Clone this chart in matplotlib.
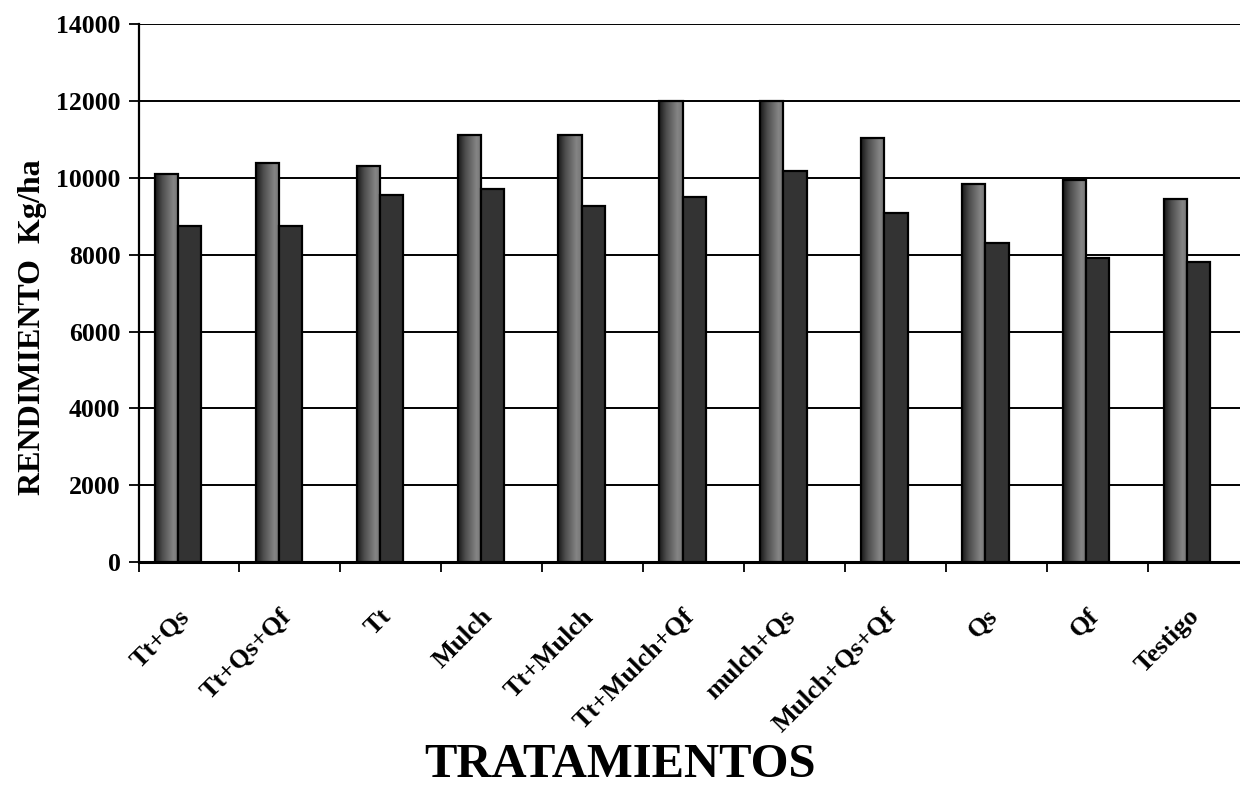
import numpy as np
import matplotlib
matplotlib.use("Agg")
import matplotlib.pyplot as plt
from matplotlib import transforms

# ---- data ----
categories = ["Tt+Qs", "Tt+Qs+Qf", "Tt", "Mulch", "Tt+Mulch", "Tt+Mulch+Qf",
              "mulch+Qs", "Mulch+Qs+Qf", "Qs", "Qf", "Testigo"]
serie_1 = [10090, 10390, 10300, 11120, 11120, 12000, 12000, 11030, 9850, 9950, 9460]
serie_2 = [8745, 8740, 9560, 9710, 9270, 9510, 10190, 9080, 8295, 7910, 7815]
yticks = [0, 2000, 4000, 6000, 8000, 10000, 12000, 14000]
ylabel = "RENDIMIENTO  Kg/ha"
xlabel = "TRATAMIENTOS"

plt.rcParams['font.family'] = ['Liberation Serif', 'DejaVu Serif']
plt.rcParams['font.weight'] = 'bold'

W, H = 1240, 789
fig = plt.figure(figsize=(W / 100, H / 100), dpi=100)
left_px, right_px = 138.5, 1249.0
top_px, bot_px = 24.3, 562.0
ax = fig.add_axes([left_px / W, 1 - bot_px / H, (right_px - left_px) / W, (bot_px - top_px) / H])

n = len(categories)
x = np.arange(n)
bw = 0.229
off1 = 0.160
off2 = off1 + bw

# gradient for series 1 (cylinder-like shading)
grad = np.interp(np.linspace(0, 1, 64), [0, 0.3, 0.78, 1.0], [0.10, 0.30, 0.52, 0.46])
img = np.tile(grad, (2, 1))

bars1 = ax.bar(x + off1, serie_1, width=bw, align='edge', facecolor='none',
               edgecolor='black', linewidth=1.6, zorder=4)
for p in bars1:
    x0, w, h = p.get_x(), p.get_width(), p.get_height()
    ax.imshow(img, cmap='gray', vmin=0, vmax=1, extent=(x0, x0 + w, 0, h),
              aspect='auto', interpolation='bilinear', zorder=3)

ax.bar(x + off2, serie_2, width=bw, align='edge', color='#333333',
       edgecolor='black', linewidth=1.6, zorder=4)

ax.set_xlim(0, n)
ax.set_ylim(0, 14000)
ax.set_yticks(yticks)
ax.set_yticklabels([str(v) for v in yticks], fontsize=18.5, fontweight='bold')
ax.set_xticks(np.arange(n + 1))
ax.set_xticklabels([])
ax.tick_params(axis='y', direction='out', length=7, width=1.3, pad=6)
ax.tick_params(axis='x', direction='out', length=7, width=1.3)

ax.yaxis.grid(True, color='black', linewidth=1.4)
ax.set_axisbelow(True)
for s in ['top', 'right']:
    ax.spines[s].set_visible(False)
ax.spines['left'].set_linewidth(1.6)
ax.spines['bottom'].set_linewidth(2.2)

# rotated category labels
trans = transforms.blended_transform_factory(ax.transData, ax.transAxes)
for i, lab in enumerate(categories):
    ax.text(i + 0.47, 0, lab,
            transform=trans + transforms.ScaledTranslation(0, -51 / 100, fig.dpi_scale_trans),
            rotation=45, rotation_mode='anchor', ha='right', va='center',
            fontsize=19, fontweight='bold')

fig.text(620 / W, 1 - 777 / H, xlabel, ha='center', va='baseline', fontsize=35, fontweight='bold')
fig.text(33 / W, 1 - 327 / H, ylabel, rotation=90, ha='center', va='center', fontsize=23, fontweight='bold')

fig.savefig("out.png", dpi=100)
